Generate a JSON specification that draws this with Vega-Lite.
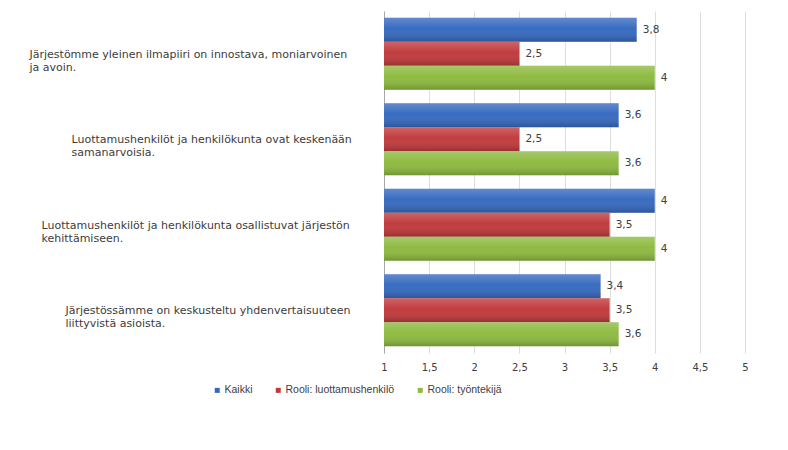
{
  "$schema": "https://vega.github.io/schema/vega-lite/v6.json",
  "width": 361,
  "height": 342,
  "autosize": {"type": "none"},
  "padding": {"left": 384, "top": 11, "right": 43, "bottom": 97},
  "background": "white",
  "config": {
    "locale": {
      "number": {"decimal": ",", "thousands": "\u00a0", "grouping": [3], "currency": ["", "\u00a0€"]}
    },
    "view": {"stroke": null},
    "font": "DejaVu Sans"
  },
  "data": {
    "values": [
      {"kysymys": "Järjestömme yleinen ilmapiiri on innostava, moniarvoinen\nja avoin.", "sarja": "Kaikki", "arvo": 3.8},
      {"kysymys": "Järjestömme yleinen ilmapiiri on innostava, moniarvoinen\nja avoin.", "sarja": "Rooli: luottamushenkilö", "arvo": 2.5},
      {"kysymys": "Järjestömme yleinen ilmapiiri on innostava, moniarvoinen\nja avoin.", "sarja": "Rooli: työntekijä", "arvo": 4},
      {"kysymys": "Luottamushenkilöt ja henkilökunta ovat keskenään\nsamanarvoisia.", "sarja": "Kaikki", "arvo": 3.6},
      {"kysymys": "Luottamushenkilöt ja henkilökunta ovat keskenään\nsamanarvoisia.", "sarja": "Rooli: luottamushenkilö", "arvo": 2.5},
      {"kysymys": "Luottamushenkilöt ja henkilökunta ovat keskenään\nsamanarvoisia.", "sarja": "Rooli: työntekijä", "arvo": 3.6},
      {"kysymys": "Luottamushenkilöt ja henkilökunta osallistuvat järjestön\nkehittämiseen.", "sarja": "Kaikki", "arvo": 4},
      {"kysymys": "Luottamushenkilöt ja henkilökunta osallistuvat järjestön\nkehittämiseen.", "sarja": "Rooli: luottamushenkilö", "arvo": 3.5},
      {"kysymys": "Luottamushenkilöt ja henkilökunta osallistuvat järjestön\nkehittämiseen.", "sarja": "Rooli: työntekijä", "arvo": 4},
      {"kysymys": "Järjestössämme on keskusteltu yhdenvertaisuuteen\nliittyvistä asioista.", "sarja": "Kaikki", "arvo": 3.4},
      {"kysymys": "Järjestössämme on keskusteltu yhdenvertaisuuteen\nliittyvistä asioista.", "sarja": "Rooli: luottamushenkilö", "arvo": 3.5},
      {"kysymys": "Järjestössämme on keskusteltu yhdenvertaisuuteen\nliittyvistä asioista.", "sarja": "Rooli: työntekijä", "arvo": 3.6}
    ]
  },
  "encoding": {
    "y": {
      "field": "kysymys",
      "type": "nominal",
      "sort": null,
      "scale": {"paddingInner": 0.16, "paddingOuter": 0.08},
      "axis": {
        "title": null,
        "domain": true,
        "domainColor": "#a8a8a8",
        "ticks": false,
        "labelAlign": "left",
        "labelBaseline": "middle",
        "labelOffset": 1,
        "labelPadding": {
          "condition": [
            {"test": "indexof(datum.value, 'Järjestömme') == 0", "value": 355},
            {"test": "indexof(datum.value, 'Luottamushenkilöt ja henkilökunta ovat') == 0", "value": 313},
            {"test": "indexof(datum.value, 'Luottamushenkilöt ja henkilökunta osallistuvat') == 0", "value": 343}
          ],
          "value": 319
        },
        "labelFont": "DejaVu Sans",
        "labelFontSize": 11,
        "labelColor": "#3c3c3c",
        "labelLineHeight": 13,
        "labelLimit": 0,
        "labelExpr": "split(datum.label, '\\n')"
      }
    },
    "yOffset": {
      "field": "sarja",
      "type": "nominal",
      "sort": null,
      "scale": {"paddingInner": 0, "paddingOuter": 0}
    }
  },
  "layer": [
    {
      "mark": {"type": "bar"},
      "encoding": {
        "x": {
          "field": "arvo",
          "type": "quantitative",
          "scale": {"domain": [1, 5], "zero": false, "nice": false},
          "axis": {
            "title": null,
            "values": [1, 1.5, 2, 2.5, 3, 3.5, 4, 4.5, 5],
            "format": "~g",
            "grid": true,
            "gridColor": "#dedede",
            "domain": false,
            "ticks": false,
            "labelFlush": false,
            "labelPadding": 9,
            "labelFont": "DejaVu Sans",
            "labelFontSize": 10,
            "labelColor": "#404040"
          }
        },
        "x2": {"datum": 1},
        "color": {
          "field": "sarja",
          "type": "nominal",
          "sort": null,
          "scale": {
            "domain": ["Kaikki", "Rooli: luottamushenkilö", "Rooli: työntekijä"],
            "range": ["#3569bf", "#c0393b", "#8dba3f"]
          },
          "legend": {
            "orient": "none",
            "legendX": -172,
            "legendY": 374,
            "direction": "horizontal",
            "title": null,
            "symbolType": "square",
            "symbolSize": 25,
            "symbolStrokeWidth": 0,
            "symbolOffset": 0,
            "labelOffset": 2,
            "columnPadding": 20,
            "padding": 0,
            "labelFont": "Liberation Sans",
            "labelFontSize": 10.5,
            "labelColor": "#404040"
          }
        }
      }
    },
    {
      "mark": {
        "type": "bar",
        "fill": {
          "gradient": "linear",
          "x1": 0, "y1": 0, "x2": 0, "y2": 1,
          "stops": [
            {"offset": 0, "color": "rgba(255,255,255,0.22)"},
            {"offset": 0.45, "color": "rgba(255,255,255,0.02)"},
            {"offset": 1, "color": "rgba(0,0,0,0.2)"}
          ]
        }
      },
      "encoding": {
        "x": {"field": "arvo", "type": "quantitative"},
        "x2": {"datum": 1}
      }
    },
    {
      "mark": {
        "type": "text",
        "align": "left",
        "baseline": "middle",
        "dx": 6,
        "font": "DejaVu Sans",
        "fontSize": 10.5,
        "color": "#404040"
      },
      "encoding": {
        "x": {"field": "arvo", "type": "quantitative"},
        "text": {"field": "arvo", "type": "quantitative", "format": ".2~r"}
      }
    }
  ]
}
